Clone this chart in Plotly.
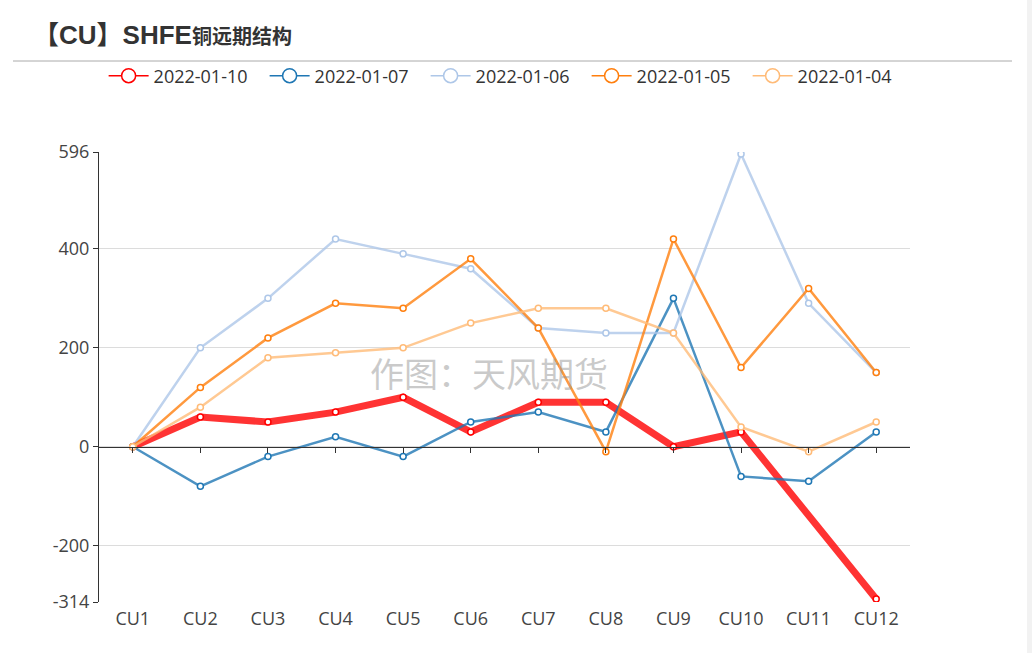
import plotly.graph_objects as go

categories = ["CU1", "CU2", "CU3", "CU4", "CU5", "CU6", "CU7", "CU8", "CU9", "CU10", "CU11", "CU12"]
s_0110 = [0, 60, 50, 70, 100, 30, 90, 90, 0, 30, None, -308]
s_0107 = [0, -80, -20, 20, -20, 50, 70, 30, 300, -60, -70, 30]
s_0106 = [0, 200, 300, 420, 390, 360, 240, 230, 230, 592, 290, 150]
s_0105 = [0, 120, 220, 290, 280, 380, 240, -10, 420, 160, 320, 150]
s_0104 = [0, 80, 180, 190, 200, 250, 280, 280, 230, 40, -10, 50]
series_names = ["2022-01-10", "2022-01-07", "2022-01-06", "2022-01-05", "2022-01-04"]
y_ticks = [-314, -200, 0, 200, 400, 596]

series = [s_0110, s_0107, s_0106, s_0105, s_0104]
colors = ["#ff0000", "#1f77b4", "#aec7e8", "#ff7f0e", "#ffbb78"]
widths = [7, 2.5, 2.5, 2.5, 2.5]

def rgba(hexc, a):
    h = hexc.lstrip("#")
    return "rgba(%d,%d,%d,%s)" % (int(h[0:2], 16), int(h[2:4], 16), int(h[4:6], 16), a)

FONT = "Open Sans, Noto Sans CJK SC"
TFONT = "Liberation Sans, Noto Sans CJK SC"
fig = go.Figure()
for name, vals, c, w in zip(series_names, series, colors, widths):
    fig.add_trace(go.Scatter(
        x=categories, y=vals, mode="lines+markers", name=name,
        connectgaps=True, showlegend=False,
        line=dict(color=rgba(c, 0.8), width=w),
        marker=dict(size=6, color="white", line=dict(color=c, width=1.5)),
        hoverinfo="skip",
    ))
# legend entries
for name, c in zip(series_names, colors):
    fig.add_trace(go.Scatter(
        x=[None], y=[None], mode="lines+markers", name=name, xaxis="x2",
        line=dict(color=c, width=1.5),
        marker=dict(size=14, color="white", line=dict(color=c, width=1.5)),
    ))

ymin, ymax = y_ticks[0], y_ticks[-1]
fig.update_layout(
    width=1032, height=653,
    margin=dict(l=99, r=122, t=152, b=51),
    paper_bgcolor="white", plot_bgcolor="white",
    font=dict(family=FONT, size=18, color="#333"),
    title=dict(text="<b><span style='font-size:26px'>【CU】SHFE</span>铜远期结构</b>",
               x=33/1032, xanchor="left",
               y=1-37/653, yanchor="middle", font=dict(size=20, color="#333", family=TFONT)),
    xaxis=dict(type="category", categoryarray=categories, range=[-0.5, len(categories)-0.5],
               showgrid=False, zeroline=False, showline=False, ticks="",
               tickfont=dict(size=18, color="#444"), ticklabelstandoff=4),
    xaxis2=dict(overlaying="x", anchor="free", position=(0-ymin)/(ymax-ymin),
                range=[-0.5, len(categories)-0.5], tickmode="array",
                tickvals=list(range(len(categories))), showticklabels=False,
                ticks="outside", ticklen=5, tickcolor="#333", showline=True,
                linecolor="#333", linewidth=1, showgrid=False, zeroline=False),
    yaxis=dict(range=[ymin, ymax], tickmode="array", tickvals=y_ticks,
               ticktext=[str(v) for v in y_ticks],
               showgrid=True, gridcolor="#dcdcdc", gridwidth=1, zeroline=False,
               showline=True, linecolor="#333", linewidth=1, ticks="outside",
               ticklen=5, tickcolor="#333", tickfont=dict(size=18, color="#444")),
    legend=dict(orientation="h", x=0.502, xanchor="center", y=1+(152-76)/450,
                yanchor="middle", font=dict(size=18, color="#333"), itemwidth=40,
                bgcolor="rgba(0,0,0,0)", entrywidth=106, entrywidthmode="pixels"),
    showlegend=True,
)
# title underline
fig.add_shape(type="line", xref="paper", yref="paper",
              x0=(13-99)/811, x1=(1012-99)/811, y0=1+(152-61)/450, y1=1+(152-61)/450,
              line=dict(color="#aaaaaa", width=1))
# page background strip
fig.add_shape(type="rect", xref="paper", yref="paper", layer="below",
              x0=(1027-99)/811, x1=(1040-99)/811, y0=-0.2, y1=1.4,
              fillcolor="#f2f2f2", line=dict(width=0))
fig.add_annotation(text="作图：天风期货", xref="paper", yref="paper",
                   x=(489-99)/811, y=1-(372-152)/450, showarrow=False,
                   font=dict(size=34, color="rgba(150,150,150,0.5)", family="Noto Sans CJK SC"))
fig.write_html("out.html")
